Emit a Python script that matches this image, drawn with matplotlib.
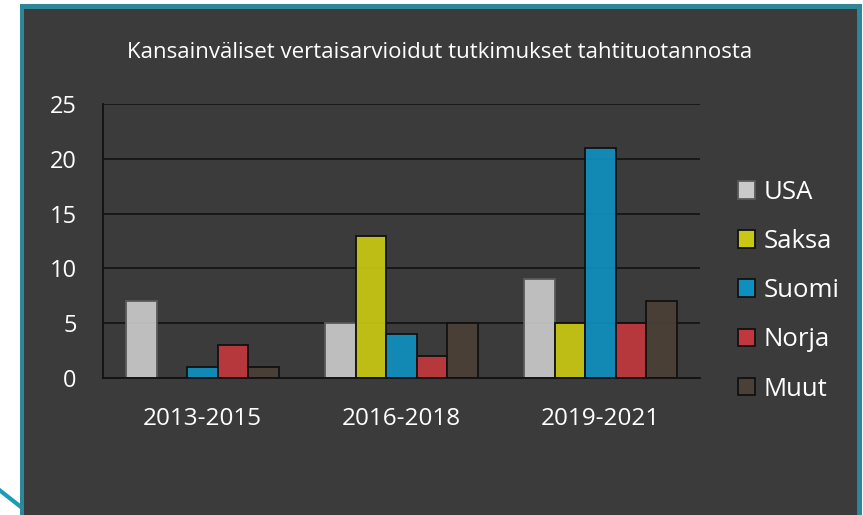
import matplotlib
matplotlib.use("Agg")
import matplotlib.pyplot as plt
import numpy as np
from matplotlib.patches import Rectangle, Patch
from matplotlib.lines import Line2D

categories = ["2013-2015", "2016-2018", "2019-2021"]
series = ["USA", "Saksa", "Suomi", "Norja", "Muut"]
usa = [7, 5, 9]
saksa = [0, 13, 5]
suomi = [1, 4, 21]
norja = [3, 2, 5]
muut = [1, 5, 7]
values = [usa, saksa, suomi, norja, muut]
colors = ["#c9c9c9", "#c8c814", "#0f8fbf", "#c0373d", "#4b4037"]
edges = ["#5a5a5a", "#111111", "#111111", "#111111", "#111111"]
title = "Kansainväliset vertaisarvioidut tutkimukset tahtituotannosta"
yticks = [0, 5, 10, 15, 20, 25]

W, H = 863, 515
plt.rcParams['font.family'] = ['Open Sans', 'DejaVu Sans']
fig = plt.figure(figsize=(W / 100, H / 100), dpi=100, facecolor="white")

def fx(x):
    return x / W

def fy(y):
    return 1 - y / H

# frame
fig.patches.append(Rectangle((fx(20), 0), fx(862) - fx(20), fy(4), transform=fig.transFigure,
                             facecolor="#2e8798", edgecolor="none", zorder=-10))
fig.patches.append(Rectangle((fx(24), 0), fx(857) - fx(24), fy(9), transform=fig.transFigure,
                             facecolor="#3b3b3b", edgecolor="none", zorder=-9))
fig.lines.append(Line2D([fx(-2), fx(21)], [fy(489), fy(507)], transform=fig.transFigure,
                        color="#1b9db3", linewidth=3.0, zorder=-11))

ax = fig.add_axes([fx(103), fy(378), fx(700) - fx(103), fy(104) - fy(378)])
ax.set_facecolor("none")
ax.set_xlim(-0.5, 2.5)
ax.set_ylim(0, 25)

x = np.arange(len(categories))
bw = 0.153
for i, (vals, c, ec) in enumerate(zip(values, colors, edges)):
    rgba = matplotlib.colors.to_rgba(c, 0.93)
    ax.bar(x + (i - 2) * bw, vals, width=bw, color=rgba, edgecolor=ec, linewidth=1.3,
           zorder=3, label=series[i])

for t in yticks[1:]:
    ax.axhline(t, color="#111111", linewidth=1.2, zorder=2)

for s in ["top", "right"]:
    ax.spines[s].set_visible(False)
for s in ["left", "bottom"]:
    ax.spines[s].set_color("#111111")
    ax.spines[s].set_linewidth(1.3)
    ax.spines[s].set_zorder(4)

ax.set_yticks(yticks)
ax.set_yticklabels([str(t) for t in yticks])
ax.set_xticks(x)
ax.set_xticklabels(categories)
ax.tick_params(axis="y", length=0, pad=19, labelsize=17, labelcolor="white")
ax.tick_params(axis="x", length=0, pad=21, labelsize=17.5, labelcolor="white")

fig.text(fx(440), fy(53), title, ha="center", va="center", color="white", fontsize=16)

handles = [Patch(facecolor=c, edgecolor=ec, linewidth=1.3) for c, ec in zip(colors, edges)]
leg = fig.legend(handles, series, loc="upper left", bbox_to_anchor=(fx(738), fy(180)),
                 frameon=False, fontsize=18.5, labelcolor="white", handlelength=0.68,
                 handleheight=0.68, handletextpad=0.3, labelspacing=0.94,
                 borderaxespad=0, borderpad=0)

fig.savefig("out.png", dpi=100, facecolor="white")
